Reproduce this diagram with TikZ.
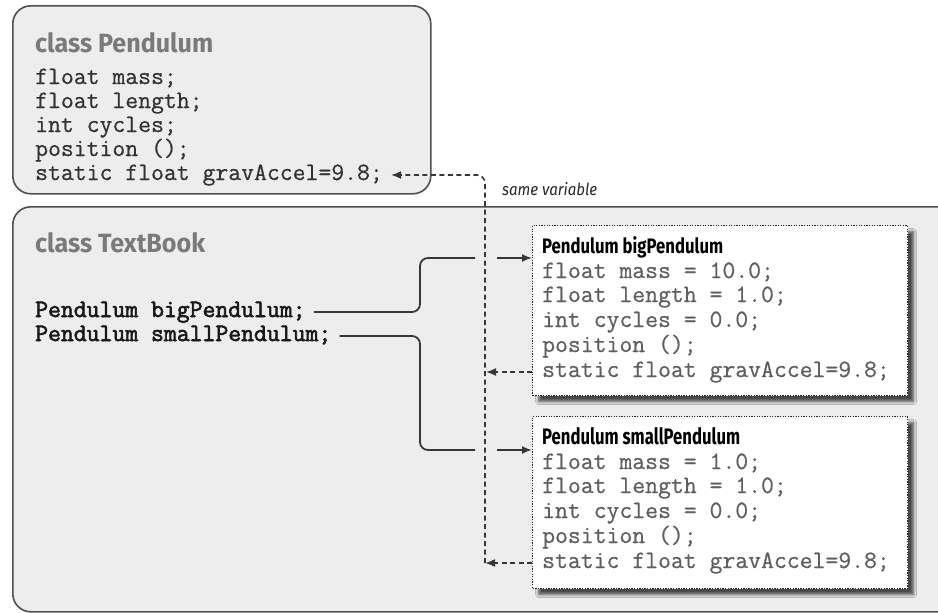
\documentclass[tikz,border=0pt]{standalone}
\usepackage{fontspec}
\usetikzlibrary{arrows.meta,shadows.blur}
\newfontfamily\codefont{Latin Modern Mono}[FakeBold=0.6]
\newfontfamily\codebold{Latin Modern Mono}[FakeBold=2.4]
\newfontfamily\headfont{Fira Sans}
\definecolor{panelfill}{RGB}{237,237,237}
\definecolor{panelline}{RGB}{80,80,80}
\definecolor{headgray}{RGB}{122,122,122}
\definecolor{codegray}{RGB}{50,50,50}
\definecolor{instgray}{RGB}{95,95,95}
\definecolor{wireline}{RGB}{55,55,55}
\tikzset{
  classpanel/.style={draw=panelline, line width=1.6pt, fill=panelfill,
    rounded corners=18pt, anchor=north west, inner sep=0pt},
  instbox/.style={draw=black!85, line width=1.2pt, dash pattern=on 1.3pt off 1.3pt,
    fill=white, anchor=north west, inner sep=0pt,
    blur shadow={shadow xshift=6pt, shadow yshift=-6pt, shadow blur steps=6,
      shadow blur radius=3pt, shadow opacity=70}},
  classtitle/.style={anchor=base west, inner sep=0pt, text=headgray,
    font=\headfont\bfseries\fontsize{27}{27}\selectfont},
  insttitle/.style={anchor=base west, inner sep=0pt, text=black,
    font=\headfont\bfseries\fontsize{24}{24}\selectfont},
  codeline/.style={anchor=base west, inner sep=0pt, text=codegray,
    font=\codefont\fontsize{25}{25}\selectfont},
  instline/.style={codeline, text=instgray},
  memberline/.style={codeline, text=black!90, font=\codebold\fontsize{25}{25}\selectfont},
  wire/.style={draw=wireline, line width=1.8pt},
  shared/.style={draw=wireline, line width=1.6pt, dash pattern=on 5pt off 3.5pt},
  tip/.style={-{Latex[length=10pt,width=8pt]}},
}
\begin{document}
\begin{tikzpicture}[x=1pt,y=-1pt]
\useasboundingbox (0,0) rectangle (938,613);
\clip (0,0) rectangle (938,613);
\fill[white] (0,0) rectangle (938,613);

% the two class panels
\node[classpanel, minimum width=418pt, minimum height=188pt] (pendPanel) at (12,5) {};
\node[classpanel, minimum width=943pt, minimum height=405pt] (bookPanel) at (12,206) {};

% instance boxes with soft shadows
\node[instbox, minimum width=375pt, minimum height=170pt] (bigBox) at (532,225) {};
\node[instbox, minimum width=375pt, minimum height=172pt] (smallBox) at (532,416) {};

% class Pendulum
\node[classtitle] (pendTitle) at (35,52) {\resizebox{178pt}{20pt}{class Pendulum}};
\node[codeline] (pc1) at (35,84)  {float mass;};
\node[codeline] (pc2) at (35,108) {float length;};
\node[codeline] (pc3) at (35,132) {int cycles;};
\node[codeline] (pc4) at (35,156) {position ();};
\node[codeline] (pc5) at (35,180) {static float gravAccel=9.8;};

% class TextBook
\node[classtitle] (bookTitle) at (35,252) {\resizebox{170pt}{20pt}{class TextBook}};
\node[memberline] (tbBig) at (35,317) {Pendulum bigPendulum;};
\node[memberline] (tbSmall) at (35,341) {Pendulum smallPendulum;};

% instance bigPendulum
\node[insttitle] (bigTitle) at (542,253) {\resizebox{181pt}{17pt}{Pendulum bigPendulum}};
\node[instline] (bc1) at (542,278) {float mass = 10.0;};
\node[instline] (bc2) at (542,302) {float length = 1.0;};
\node[instline] (bc3) at (542,327) {int cycles = 0.0;};
\node[instline] (bc4) at (542,352) {position ();};
\node[instline] (bc5) at (542,377) {static float gravAccel=9.8;};

% instance smallPendulum
\node[insttitle] (smallTitle) at (542,444) {\resizebox{198pt}{17pt}{Pendulum smallPendulum}};
\node[instline] (sc1) at (542,469) {float mass = 1.0;};
\node[instline] (sc2) at (542,493) {float length = 1.0;};
\node[instline] (sc3) at (542,518) {int cycles = 0.0;};
\node[instline] (sc4) at (542,543) {position ();};
\node[instline] (sc5) at (542,568) {static float gravAccel=9.8;};

% label of the shared static field
\node[anchor=base west, inner sep=0pt, text=black!85,
  font=\headfont\itshape\fontsize{18}{18}\selectfont] (sameLbl) at (502,195)
  {\resizebox{95pt}{13pt}{same variable}};

% references from the TextBook members to the instances
\coordinate (bendA) at (420,258);
\coordinate (hopA) at (475,258);
\coordinate (landA) at (497,258);
\coordinate (bendB) at (420,450);
\coordinate (hopB) at (475,450);
\coordinate (landB) at (497,450);
\draw[wire, rounded corners=8pt] ([shift={(8,-5)}]tbBig.base east) -| (bendA) -- (hopA);
\draw[wire, tip] (landA) -- (landA -| bigBox.west);
\draw[wire, rounded corners=8pt] ([shift={(8,-5)}]tbSmall.base east) -| (bendB) -- (hopB);
\draw[wire, tip] (landB) -- (landB -| smallBox.west);

% the static field is shared by both instances
\coordinate (spineBot) at (485,563);
\coordinate (spineMid) at (486,372);
\draw[shared, rounded corners=8pt, tip] (spineBot) |- ([shift={(8,-5)}]pc5.base east);
\draw[shared, tip] (bigBox.west |- spineMid) -- (spineMid);
\draw[shared, tip] (smallBox.west |- spineBot) -- (spineBot);
\end{tikzpicture}
\end{document}
